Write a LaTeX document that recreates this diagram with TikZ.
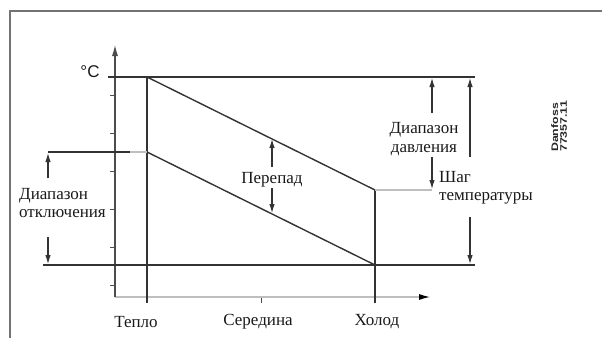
\documentclass[tikz,border=0pt]{standalone}
\usepackage{fontspec}
\usepackage{graphicx}
\setmainfont{Liberation Serif}
\setsansfont{Liberation Sans}
\usetikzlibrary{arrows.meta}
\begin{document}
\begin{tikzpicture}[x=1pt,y=-1pt,
  ln/.style={draw=black!80,line width=1.4pt},
  lt/.style={draw=black!25,line width=1.2pt},
  ar/.style={draw=black!80,line width=1.1pt,-{Latex[length=9pt,width=5.5pt]}},
  lbl/.style={font=\fontsize{17}{18.5}\selectfont,inner sep=0pt,text=black!90},
  dan/.style={inner sep=0pt,rotate=90,anchor=north west,font=\sffamily\bfseries\fontsize{9.5}{10}\selectfont,text=black!85},
  tick/.style={draw=black!70,line width=1pt}]
\useasboundingbox (0,0) rectangle (602,338);
% frame
\draw[draw=black!55,line width=2.2pt] (10,338) -- (10,11) -- (602,11);
% key points
\coordinate (o) at (115,297);
\coordinate (ytop) at (115,45);
\coordinate (xend) at (430,297);
\coordinate (tl) at (147,77);
\coordinate (tlb) at (147,303);
\coordinate (tm) at (147,152);
\coordinate (cr) at (375,190);
\coordinate (crb) at (375,303);
\coordinate (cb) at (375,265);
\coordinate (topl) at (108,77);
\coordinate (topr) at (475,77);
\coordinate (botl) at (43,265);
\coordinate (botr) at (475,265);
\coordinate (ml) at (48,152);
\coordinate (mm) at (130,152);
\coordinate (rr) at (432,190);
% axes
\draw[lt,-{Latex[length=11pt,width=6pt,black]}] (o) -- (xend);
\draw[draw=black!70,line width=1.1pt,-{Latex[length=11pt,width=6pt]}] (o) -- (ytop);
\foreach \yy in {95,133,171,209,247,285} \draw[tick] (110,\yy) -- (115,\yy);
\draw[tick] (261,298) -- (261,303);
% lines
\draw[ln] (topl) -- (topr);
\draw[ln] (tl) -- (tlb);
\draw[ln] (cr) -- (crb);
\draw[ln] (tl) -- (cr);
\draw[ln] (tm) -- (cb);
\draw[ln] (botl) -- (botr);
\draw[ln] (ml) -- (mm);
\draw[lt] (mm) -- (tm);
\draw[lt] (cr) -- (rr);
% arrows
\coordinate (a1) at (48,178); \coordinate (a1t) at (48,153);
\coordinate (a2) at (48,237); \coordinate (a2t) at (48,264);
\coordinate (a3) at (272,167); \coordinate (a3t) at (272,139);
\coordinate (a4) at (272,188); \coordinate (a4t) at (272,213);
\coordinate (a5) at (432,113); \coordinate (a5t) at (432,78);
\coordinate (a6) at (432,157); \coordinate (a6t) at (432,189);
\coordinate (a7) at (470,157); \coordinate (a7t) at (470,78);
\coordinate (a8) at (470,217); \coordinate (a8t) at (470,264);
\draw[ar] (a1) -- (a1t);
\draw[ar] (a2) -- (a2t);
\draw[ar] (a3) -- (a3t);
\draw[ar] (a4) -- (a4t);
\draw[ar] (a5) -- (a5t);
\draw[ar] (a6) -- (a6t);
\draw[ar] (a7) -- (a7t);
\draw[ar] (a8) -- (a8t);
% labels
\node[lbl,align=left,anchor=west] (off) at (19,203) {Диапазон\\отключения};
\node[lbl,align=center] (press) at (424,139) {Диапазон\\давления};
\node[lbl,align=left,anchor=west] (step) at (439,188) {Шаг\\температуры};
\node[lbl] (diff) at (272,180) {Перепад};
\node[lbl,font=\sffamily\fontsize{17}{20}\selectfont] (deg) at (90,72) {°C};
\node[lbl] (warm) at (136,322) {Тепло};
\node[lbl] (mid) at (258,322) {Середина};
\node[lbl] (cold) at (377,322) {Холод};
\node[dan] (dn) at (551,152) {\scalebox{1.3}[1]{Danfoss}};
\node[dan] (num) at (560,152) {\scalebox{1.3}[1]{77357.11}};
\end{tikzpicture}
\end{document}
